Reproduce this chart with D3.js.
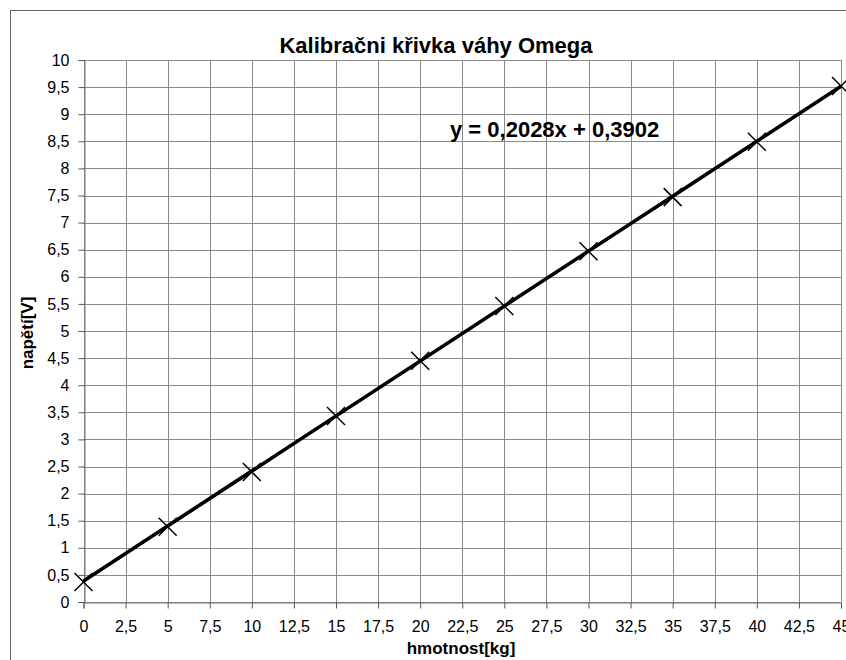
<!DOCTYPE html>
<html>
<head>
<meta charset="utf-8">
<script src="https://cdn.jsdelivr.net/npm/d3@7"></script>
<style>
  body { margin: 0; background: #fff; }
  svg { font-family: "Liberation Sans", Arial, sans-serif; }
</style>
</head>
<body>
<script>
let width = 846;
let height = 660;

// measured points (mass kg -> voltage V)
let masses = [0, 5, 10, 15, 20, 25, 30, 35, 40, 45];
let voltages = [0.37, 1.39, 2.40, 3.43, 4.45, 5.46, 6.47, 7.47, 8.49, 9.52];

// linear trend from the chart
let slope = 0.2028;
let intercept = 0.3902;

let xTicks = d3.range(0, 45.01, 2.5);
let yTicks = d3.range(0, 10.01, 0.5);

let fmt = (v) => String(+v.toFixed(1)).replace(".", ",");

let margin = { left: 83.5, right: 846 - 841, top: 60, bottom: 660 - 602 };

let svg = d3
  .select("body")
  .append("svg")
  .attr("width", width)
  .attr("height", height);

// outer chart border
svg
  .append("rect")
  .attr("x", 10.5)
  .attr("y", 10.5)
  .attr("width", 900)
  .attr("height", 800)
  .attr("fill", "none")
  .attr("stroke", "#666");

let x = d3.scaleLinear().domain([0, 45]).range([margin.left, width - margin.right]);
let y = d3.scaleLinear().domain([0, 10]).range([height - margin.bottom, margin.top]);

// grid
svg
  .append("g")
  .selectAll("line")
  .data(xTicks)
  .enter()
  .append("line")
  .attr("x1", (d) => Math.round(x(d)) + 0.5)
  .attr("x2", (d) => Math.round(x(d)) + 0.5)
  .attr("y1", y(0))
  .attr("y2", y(10))
  .attr("stroke", "#8a8a8a");

svg
  .append("g")
  .selectAll("line")
  .data(yTicks)
  .enter()
  .append("line")
  .attr("y1", (d) => Math.round(y(d)) + 0.5)
  .attr("y2", (d) => Math.round(y(d)) + 0.5)
  .attr("x1", x(0))
  .attr("x2", x(45))
  .attr("stroke", "#8a8a8a");

// axes
let xAxis = d3.axisBottom(x).tickValues(xTicks).tickSize(6).tickPadding(12).tickFormat(fmt);
let yAxis = d3.axisLeft(y).tickValues(yTicks).tickSize(6).tickPadding(9).tickFormat(fmt);

let gx = svg
  .append("g")
  .attr("transform", `translate(0,${Math.round(y(0)) + 0.5})`)
  .call(xAxis);
let gy = svg
  .append("g")
  .attr("transform", `translate(${Math.round(x(0)) + 0.5},0)`)
  .call(yAxis);

[gx, gy].forEach((g) => {
  g.select(".domain").attr("stroke", "#777");
  g.selectAll(".tick line").attr("stroke", "#555");
  g.selectAll(".tick text")
    .attr("fill", "#000")
    .style("font-size", "16px")
    .style("font-family", "'Liberation Sans', Arial, sans-serif");
});

// data line (thin, mostly hidden under trend)
svg
  .append("path")
  .datum(masses.map((m, i) => [m, voltages[i]]))
  .attr("fill", "none")
  .attr("stroke", "#000")
  .attr("stroke-width", 2)
  .attr("d", d3.line().x((d) => x(d[0])).y((d) => y(d[1])));

// trend line
svg
  .append("line")
  .attr("x1", x(0))
  .attr("y1", y(intercept))
  .attr("x2", x(45))
  .attr("y2", y(slope * 45 + intercept))
  .attr("stroke", "#000")
  .attr("stroke-width", 3.5);

// X markers
let s = 9;
svg
  .append("g")
  .selectAll("path")
  .data(masses.map((m, i) => [m, voltages[i]]))
  .enter()
  .append("path")
  .attr("d", (d) => {
    let cx = x(d[0]);
    let cy = y(d[1]);
    return `M${cx - s},${cy - s}L${cx + s},${cy + s}M${cx - s},${cy + s}L${cx + s},${cy - s}`;
  })
  .attr("stroke", "#000")
  .attr("stroke-width", 1.5)
  .attr("fill", "none");

// title
svg
  .append("text")
  .attr("x", 436)
  .attr("y", 53)
  .attr("text-anchor", "middle")
  .style("font-size", "22px")
  .style("font-weight", "bold")
  .text("Kalibračni křivka váhy Omega");

// equation
svg
  .append("text")
  .attr("x", 450)
  .attr("y", 137)
  .style("font-size", "22px")
  .style("font-weight", "bold")
  .text("y = 0,2028x + 0,3902");

// axis titles
svg
  .append("text")
  .attr("x", 461)
  .attr("y", 654)
  .attr("text-anchor", "middle")
  .style("font-size", "17px")
  .style("font-weight", "bold")
  .text("hmotnost[kg]");

svg
  .append("text")
  .attr("transform", "translate(33,333) rotate(-90)")
  .attr("text-anchor", "middle")
  .style("font-size", "17px")
  .style("font-weight", "bold")
  .text("napětí[V]");
</script>
</body>
</html>
